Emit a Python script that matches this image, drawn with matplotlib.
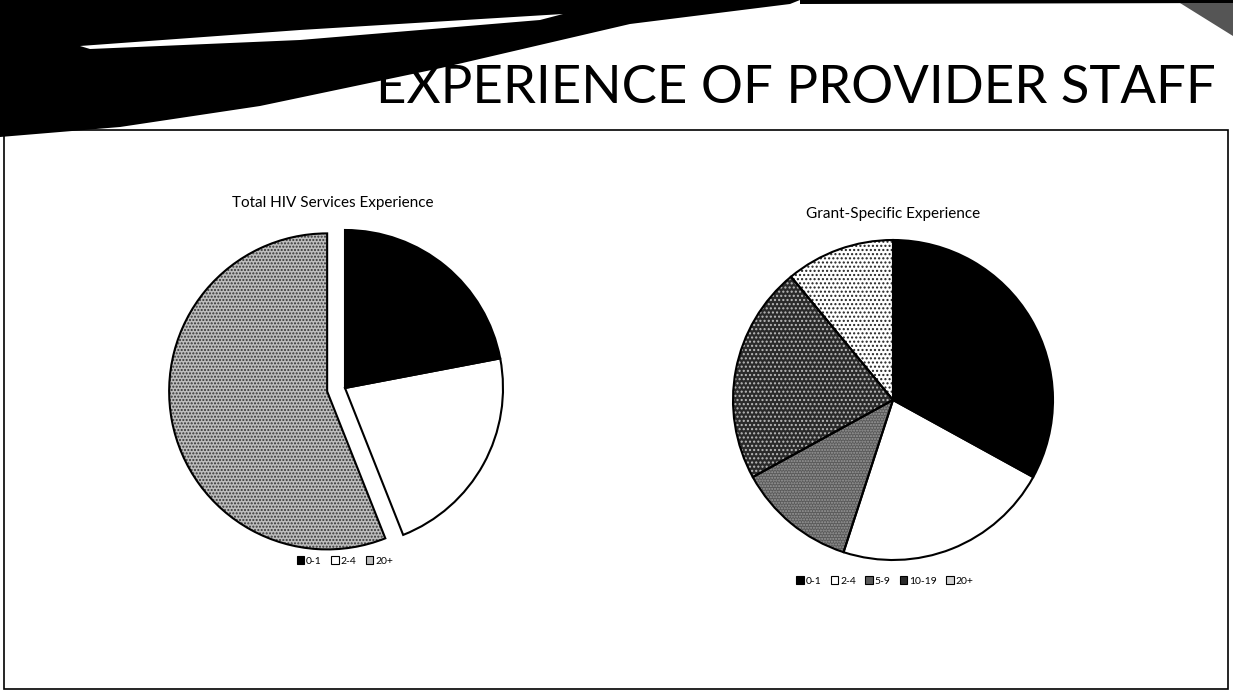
import matplotlib.pyplot as plt
from matplotlib.patches import Polygon, Rectangle

# data
left_labels = ["0-1", "2-4", "20+"]
left_values = [22, 22, 56]
right_labels = ["0-1", "2-4", "5-9", "10-19", "20+"]
right_values = [33, 22, 12, 22, 11]

W, H = 1233, 694
plt.rcParams['font.family'] = ['Lato', 'DejaVu Sans']
plt.rcParams['hatch.linewidth'] = 1.0
fig = plt.figure(figsize=(W / 100, H / 100), dpi=100)

# slide background decoration (pixel coords, y down)
bg = fig.add_axes([0, 0, 1, 1])
bg.set_xlim(0, W)
bg.set_ylim(H, 0)
bg.axis("off")
bg.add_patch(Polygon([(0, 0), (800, 0), (790, 4), (630, 24), (441, 68), (260, 106),
                      (120, 127), (0, 137)], closed=True, fc="black", ec="none"))
bg.add_patch(Polygon([(800, 0), (W, 0), (W, 3), (800, 4)], closed=True, fc="black", ec="none"))
bg.add_patch(Polygon([(80, 46), (300, 30), (563, 14), (540, 20), (300, 40), (90, 49)],
                     closed=True, fc="white", ec="none"))
bg.add_patch(Polygon([(1180, 3), (W, 3), (W, 36)], closed=True, fc="#555555", ec="none"))
bg.add_patch(Rectangle((4, 130), 1224, 559, fill=False, ec="black", lw=1.2))
bg.text(795.5, 88, "EXPERIENCE OF PROVIDER STAFF", ha="center", va="center",
        fontsize=37.9, fontweight="normal", color="black")


def pie_axes(cx, cy, r, lim=1.3):
    size = 2 * r * lim
    return fig.add_axes([(cx - size / 2) / W, (H - cy - size / 2) / H, size / W, size / H])


def draw_pie(ax, values, faces, hatches, hcolors, explode, lim=1.3):
    w1, _ = ax.pie(values, startangle=90, counterclock=False, explode=explode,
                   colors=faces, wedgeprops=dict(linewidth=0))
    for w, h, hc in zip(w1, hatches, hcolors):
        w.set_hatch(h)
        w.set_edgecolor(hc)
    ax.pie(values, startangle=90, counterclock=False, explode=explode,
           colors=["none"] * len(values),
           wedgeprops=dict(linewidth=1.5, edgecolor="black", fill=False))
    ax.set_xlim(-lim, lim)
    ax.set_ylim(-lim, lim)
    ax.set_aspect("equal")
    return w1


def add_legend(labels, faces, x, y):
    handles = [Rectangle((0, 0), 1, 1, fc=f, ec="black", lw=0.8) for f in faces]
    fig.legend(handles, labels, loc="center", bbox_to_anchor=(x / W, 1 - y / H),
               ncol=len(labels), frameon=False, fontsize=7.5, handlelength=0.7,
               handleheight=0.7, handletextpad=0.2, columnspacing=0.9)


# left pie
left_faces = ["black", "white", "#bdbdbd"]
axl = pie_axes(345, 388, 158)
draw_pie(axl, left_values, left_faces, ["", "", "....."],
         ["black", "white", "#333333"], [0, 0, 0.115])
fig.text(333 / W, 1 - 203 / H, "Total HIV Services Experience", ha="center", va="center",
         fontsize=11)
add_legend(left_labels, ["black", "white", "#bdbdbd"], 345, 561)

# right pie
right_faces = ["black", "white", "#5a5a5a", "#2a2a2a", "white"]
axr = pie_axes(893, 400, 160)
draw_pie(axr, right_values, right_faces, ["", "", "......", "....", "...."],
         ["black", "white", "#9a9a9a", "#bbbbbb", "#222222"], None)
fig.text(893 / W, 1 - 214 / H, "Grant-Specific Experience", ha="center", va="center",
         fontsize=11)
add_legend(right_labels, ["black", "white", "#5a5a5a", "#2a2a2a", "#cfcfcf"], 885, 581)

fig.savefig("out.png", dpi=100)
